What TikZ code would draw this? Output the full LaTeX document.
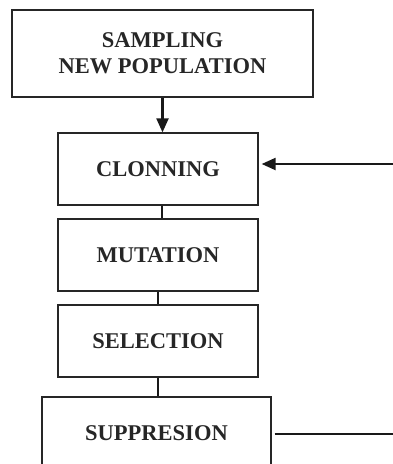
\documentclass[tikz,border=0pt]{standalone}
\usepackage{fontspec}
\setmainfont{Liberation Serif}
\usetikzlibrary{arrows.meta}
\begin{document}
\begin{tikzpicture}[x=1pt,y=-1pt,
  box/.style={draw=black!85,line width=1.3pt,rectangle,inner sep=0pt,align=center,
    font=\fontsize{22.5}{26}\selectfont\bfseries,text=black!85},
  conn/.style={draw=black!90,line width=2.2pt},
  tip/.style={-{Triangle[length=14pt,width=12pt]}}]
\clip (0,0) rectangle (393,464);
\useasboundingbox (0,0) rectangle (393,464);
\node[box,minimum width=301pt,minimum height=87pt] (samp) at (162.5,53.5) {SAMPLING\\NEW POPULATION};
\node[box,minimum width=200pt,minimum height=72pt] (clon) at (158,169) {CLONNING};
\node[box,minimum width=200pt,minimum height=72pt] (mut) at (158,255) {MUTATION};
\node[box,minimum width=200pt,minimum height=72pt] (sel) at (158,341) {SELECTION};
\node[box,minimum width=229pt,minimum height=72pt] (sup) at (156.5,433) {SUPPRESION};
\coordinate (in) at (393,164);
\coordinate (out) at (393,434);
\draw[conn,tip] (samp.south) -- (samp.south |- clon.north);
\draw[conn] ([xshift=4pt]clon.south) -- ([xshift=4pt]mut.north);
\draw[conn] (mut.south) -- (sel.north);
\draw[conn] (sel.south) -- (sel.south |- sup.north);
\draw[conn,tip] (in) -- ([xshift=3pt]clon.east |- in);
\draw[conn] ([xshift=3pt]sup.east |- out) -- (out);
\end{tikzpicture}
\end{document}
